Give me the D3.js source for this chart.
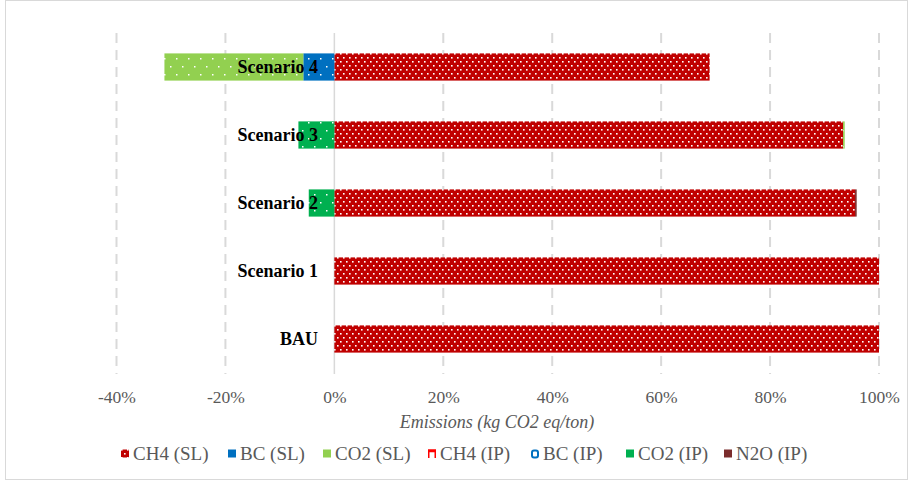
<!DOCTYPE html>
<html><head><meta charset="utf-8">
<script src="https://cdn.jsdelivr.net/npm/d3@7"></script>
<style>body{margin:0;background:#fff}svg{display:block}</style>
</head><body><svg id="c" width="910" height="481"></svg>
<script>
const categories = ["Scenario 4","Scenario 3","Scenario 2","Scenario 1","BAU"];
const seriesNames = ["CH4 (SL)","BC (SL)","CO2 (SL)","CH4 (IP)","BC (IP)","CO2 (IP)","N2O (IP)"];
const ch4SL = [68.9, 93.4, 95.6, 100, 100];
const bcSL  = [-5.7, 0, 0, 0, 0];
const co2SL = [-25.5, 0.3, 0, 0, 0];
const ch4IP = [0, 0, 0, 0, 0];
const bcIP  = [0, 0, 0, 0, 0];
const co2IP = [0, -6.6, -4.7, 0, 0];
const n2oIP = [0, 0, 0.3, 0, 0];
const tickValues = [-40,-20,0,20,40,60,80,100];
const seriesValues = [ch4SL, bcSL, co2SL, ch4IP, bcIP, co2IP, n2oIP];
const colors = ["#C00000","#0070C0","#92D050","#FF0000","#0070C0","#00B050","#7B2C2C"];
const FONT = "Liberation Serif, Times New Roman, serif";

const svg = d3.select("#c");
svg.append("rect").attr("x",5.5).attr("y",0.5).attr("width",902).attr("height",479).attr("fill","#fff").attr("stroke","#d9d9d9");

const defs = svg.append("defs");
function dense(id, col){
  const p = defs.append("pattern").attr("id",id).attr("patternUnits","userSpaceOnUse").attr("width",6).attr("height",8);
  p.append("rect").attr("width",6).attr("height",8).attr("fill",col);
  p.append("rect").attr("x",1).attr("y",1).attr("width",1.6).attr("height",1.6).attr("fill","#fff");
  p.append("rect").attr("x",4).attr("y",5).attr("width",1.6).attr("height",1.6).attr("fill","#fff");
}
function sparse(id, col){
  const p = defs.append("pattern").attr("id",id).attr("patternUnits","userSpaceOnUse").attr("width",12).attr("height",16);
  p.append("rect").attr("width",12).attr("height",16).attr("fill",col);
  p.append("rect").attr("x",2).attr("y",2).attr("width",1.5).attr("height",1.5).attr("fill","#fff");
  p.append("rect").attr("x",8).attr("y",10).attr("width",1.5).attr("height",1.5).attr("fill","#fff");
}
dense("p0", colors[0]);
sparse("p1", colors[1]);
sparse("p2", colors[2]);
sparse("p5", colors[5]);
const fills = ["url(#p0)","url(#p1)","url(#p2)",colors[3],colors[4],"url(#p5)",colors[6]];

const x = d3.scaleLinear().domain([-40,100]).range([116.5,879]);
const y = d3.scaleBand().domain(categories).range([33,373]).paddingInner(0.6).paddingOuter(0.3);

// grid
const g = svg.append("g");
tickValues.forEach(t=>{
  g.append("line").attr("x1",x(t)).attr("x2",x(t)).attr("y1",33).attr("y2",374)
   .attr("stroke","#d9d9d9").attr("stroke-width", t===0?1.5:2)
   .attr("stroke-dasharray", t===0?null:"10,7");
});

// bars stacked (pos / neg separately)
categories.forEach((c,i)=>{
  let pos=0, neg=0;
  seriesValues.forEach((s,k)=>{
    const v = s[i]; if(!v) return;
    let x0,x1;
    if(v>0){x0=pos;x1=pos+v;pos=x1;} else {x1=neg;x0=neg+v;neg=x0;}
    svg.append("rect").attr("x",x(x0)).attr("y",y(c)).attr("width",Math.max(1.2,x(x1)-x(x0))).attr("height",y.bandwidth())
      .attr("fill",fills[k]);
  });
});

// category labels
svg.append("g").selectAll("text").data(categories).join("text")
  .attr("x",318).attr("y",d=>y(d)+y.bandwidth()/2).attr("dy","0.35em").attr("text-anchor","end")
  .attr("font-family",FONT).attr("font-weight","bold").attr("font-size",18)
  .attr("fill","#000").text(d=>d);

// x axis
const ax = svg.append("g").attr("transform","translate(0,374)")
  .call(d3.axisBottom(x).tickValues(tickValues).tickFormat(d=>d+"%").tickSize(0).tickPadding(17));
ax.select(".domain").remove();
ax.selectAll("text").attr("font-family",FONT).attr("font-size",17.5).attr("fill","#595959");

svg.append("text").attr("x",497).attr("y",428).attr("text-anchor","middle")
  .attr("font-family",FONT).attr("font-style","italic").attr("font-size",18)
  .attr("fill","#595959").text("Emissions (kg CO2 eq/ton)");

// legend
const legX = [121,228,323,428,531,626,724];
const leg = svg.append("g");
seriesNames.forEach((n,k)=>{
  const gx = legX[k];
  if(k===3){
    leg.append("path").attr("d",`M${gx+0.75},${458} V${450} H${gx+7.25} V${458} M${gx},${451.5} H${gx+8}`).attr("fill","none").attr("stroke",colors[3]).attr("stroke-width",1.5);
  } else if(k===4){
    leg.append("rect").attr("x",gx+1).attr("y",450.5).attr("width",6).attr("height",7).attr("rx",2).attr("fill","none").attr("stroke",colors[4]).attr("stroke-width",2);
  } else {
    leg.append("rect").attr("x",gx).attr("y",449.5).attr("width",8).attr("height",8).attr("fill",k===0?"url(#p0)":colors[k]);
  }
  leg.append("text").attr("x",gx+12).attr("y",460).attr("font-family",FONT)
    .attr("font-size",19).attr("fill","#595959").text(n);
});
</script></body></html>
